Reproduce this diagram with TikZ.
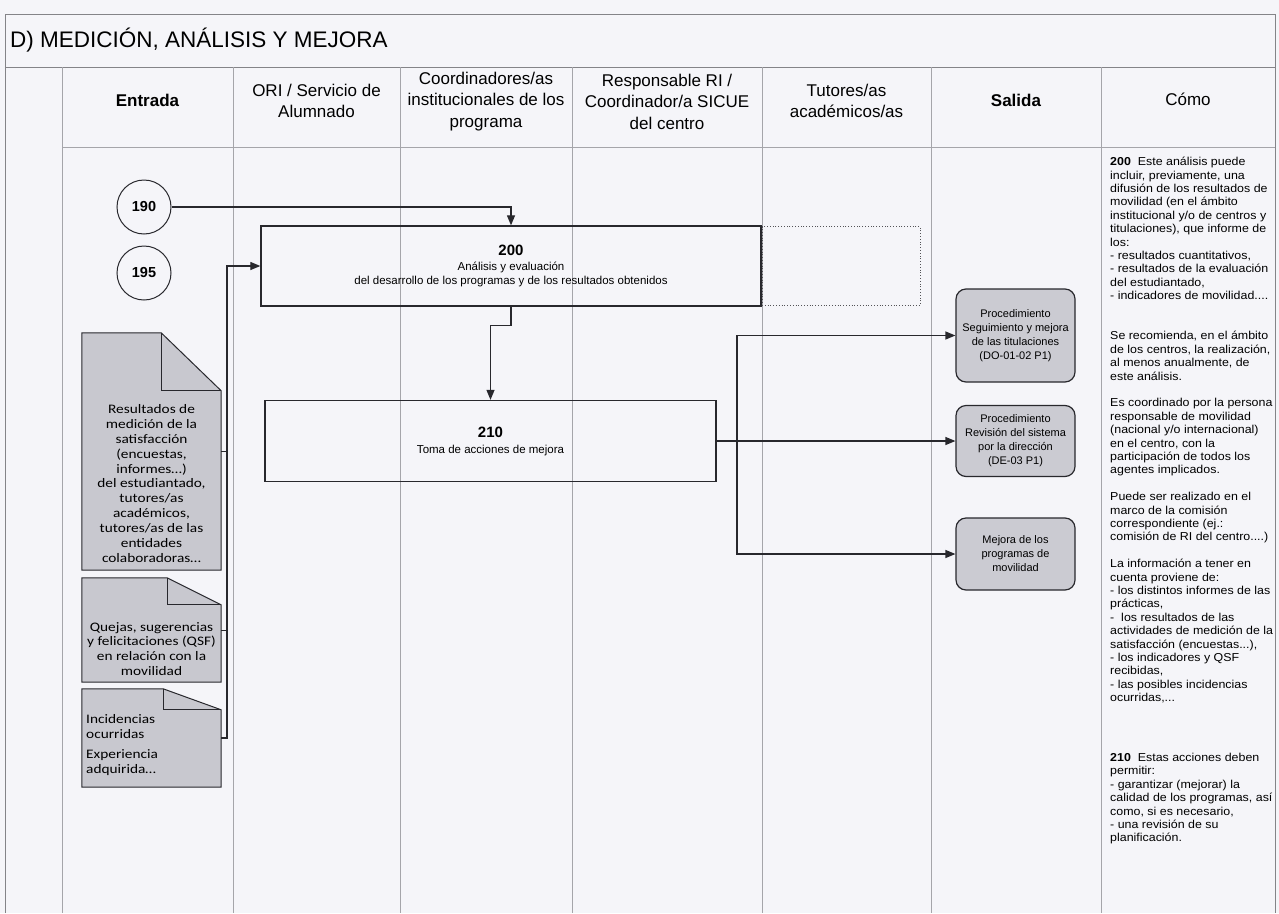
\documentclass[tikz,border=0pt]{standalone}
\usepackage{fontspec}
\setmainfont{Liberation Sans}
\newfontfamily\docfont[FakeStretch=1.18]{Carlito}
\newfontfamily\comofont[FakeStretch=1.08]{Liberation Sans}
\usepackage{tikz}
\usetikzlibrary{calc,positioning,arrows.meta,shapes}
\definecolor{paper}{RGB}{245,245,249}
\definecolor{lanegray}{RGB}{165,165,170}
\definecolor{ink}{RGB}{40,40,45}
\definecolor{docgray}{RGB}{200,200,207}
\definecolor{boxgray}{RGB}{203,203,210}

\begin{document}
\begin{tikzpicture}[x=1pt,y=-1pt]
\tikzstyle{lane}=[draw=lanegray, line width=0.6pt]
\tikzstyle{tblframe}=[draw=lanegray!80!black, line width=0.8pt]
\tikzstyle{hdr}=[align=center, inner sep=0pt, font=\fontsize{17}{21.5}\selectfont]
\tikzstyle{circ}=[circle, draw=ink, line width=1pt, minimum size=54pt, inner sep=0pt, font=\fontsize{14.5}{16}\selectfont\bfseries]
\tikzstyle{procbox}=[rectangle, draw=ink, line width=1.3pt, align=center, inner sep=0pt, font=\fontsize{11.5}{14}\selectfont]
\tikzstyle{dotbox}=[rectangle, draw=ink!80, dotted, line width=0.8pt, inner sep=0pt]
\tikzstyle{outbox}=[rectangle, rounded corners=10pt, draw=ink, fill=boxgray, line width=1.2pt, minimum width=119pt, align=center, inner sep=0pt, font=\fontsize{11}{14}\selectfont]
\tikzstyle{docnode}=[rectangle, inner sep=0pt, minimum width=139pt]
\tikzstyle{docshape}=[draw=ink, fill=docgray, line width=1pt]
\tikzstyle{doctxt}=[align=center, inner sep=0pt, font=\docfont\fontsize{13}{14.9}\selectfont]
\tikzstyle{como}=[align=left, inner sep=0pt, anchor=north west, font=\comofont\fontsize{11.5}{13.4}\selectfont]
\tikzstyle{conn}=[draw=ink, line width=1.2pt]
\tikzstyle{arr}=[conn, -{Triangle[length=10pt,width=8pt]}]

\fill[paper] (0,0) rectangle (1279,913);
\useasboundingbox (0,0) rectangle (1279,913);

% table
\draw[tblframe] (5,913) -- (5,14) -- (1275,14) -- (1275,913);
\draw[tblframe] (5,67) -- (1275,67);
\draw[lane] (62,147) -- (1275,147);
\foreach \x in {62,233,400,572,762,931,1101} {\draw[lane] (\x,67) -- (\x,913);}

\node[anchor=west, inner sep=0pt, font=\fontsize{22.5}{26}\selectfont] (ttl) at (10,40.5) {D) MEDICIÓN, ANÁLISIS Y MEJORA};

\node[hdr] (h1) at (147.5,100) {\textbf{Entrada}};
\node[hdr] (h2) at (316.5,101) {ORI / Servicio de\\Alumnado};
\node[hdr] (h3) at (486,101.5) {Coordinadores/as\\institucionales de los\\programa};
\node[hdr] (h4) at (667,101.5) {Responsable RI /\\Coordinador/a SICUE\\del centro};
\node[hdr] (h5) at (846.5,101) {Tutores/as\\académicos/as};
\node[hdr] (h6) at (1016,100) {\textbf{Salida}};
\node[hdr] (h7) at (1188,99) {Cómo};

% entrada
\node[circ] (c190) at (144,207) {190};
\node[circ] (c195) at (144,273) {195};

\node[docnode, minimum height=237pt] (d1) at (151.5,451.5) {};
\node[docnode, minimum height=104pt] (d2) at (151.5,630) {};
\node[docnode, minimum height=98pt] (d3) at (151.5,738) {};
\foreach \d/\fw/\fh in {d1/60/58, d2/54/27, d3/58/21}{
\filldraw[docshape] (\d.north west) -- ($(\d.north east)+(-\fw,0)$) -- ($(\d.north east)+(0,\fh)$) -- (\d.south east) -- (\d.south west) -- cycle;
\draw[docshape, fill=none] ($(\d.north east)+(-\fw,0)$) -- ($(\d.north east)+(-\fw,\fh)$) -- ($(\d.north east)+(0,\fh)$);
}
\node[doctxt] (t1) at (151.5,483.5) {Resultados de\\medición de la\\satisfacción\\(encuestas,\\informes…)\\del estudiantado,\\tutores/as\\académicos,\\tutores/as de las\\entidades\\colaboradoras…};
\node[doctxt] (t2) at (151.5,649) {Quejas, sugerencias\\y felicitaciones (QSF)\\en relación con la\\movilidad};
\node[doctxt, align=left, anchor=west] (t3) at (86,745) {Incidencias\\ocurridas\\[6pt]Experiencia\\adquirida…};

% proceso
\node[procbox, minimum width=500pt, minimum height=80pt] (b200) at (511,266) {{\fontsize{15}{17}\selectfont\bfseries 200}\\[1pt]Análisis y evaluación\\del desarrollo de los programas y de los resultados obtenidos};
\node[dotbox, anchor=west, minimum width=158pt, minimum height=79pt] (ext) at (b200.east) {};
\node[procbox, minimum width=451pt, minimum height=81pt] (b210) at (490.5,441) {{\fontsize{15}{17}\selectfont\bfseries 210}\\[2pt]Toma de acciones de mejora};

% salida
\node[outbox, minimum height=93pt] (o1) at (1015.5,335.5) {Procedimiento\\Seguimiento y mejora\\de las titulaciones\\(DO-01-02 P1)};
\node[outbox, minimum height=71pt] (o2) at (1015.5,441) {Procedimiento\\Revisión del sistema\\por la dirección\\(DE-03 P1)};
\node[outbox, minimum height=72pt] (o3) at (1015.5,554) {Mejora de los\\programas de\\movilidad};

% connectors
\coordinate (jin) at (227,266);
\coordinate (split) at (737,441);
\draw[arr] (c190) -| (b200);
\draw[arr] (d3.east) -| (jin) -- (b200.west);
\draw[conn, line width=1pt] (d1.east) -- (d1.east -| jin);
\draw[conn, line width=1pt] (d2.east) -- (d2.east -| jin);
\draw[arr] (b200.south) -- ++(0,19) -| (b210);
\draw[arr] (b210.east) -- (o2);
\draw[arr] (split) |- (o1);
\draw[arr] (split) |- (o3);

% como
\node[como] (cm1) at (1110,157) {{\bfseries 200}\ \ Este análisis puede\\
incluir, previamente, una\\
difusión de los resultados de\\
movilidad (en el ámbito\\
institucional y/o de centros y\\
titulaciones), que informe de\\
los:\\
- resultados cuantitativos,\\
- resultados de la evaluación\\
del estudiantado,\\
- indicadores de movilidad....\\[26.8pt]
Se recomienda, en el ámbito\\
de los centros, la realización,\\
al menos anualmente, de\\
este análisis.\\[13.4pt]
Es coordinado por la persona\\
responsable de movilidad\\
(nacional y/o internacional)\\
en el centro, con la\\
participación de todos los\\
agentes implicados.\\[13.4pt]
Puede ser realizado en el\\
marco de la comisión\\
correspondiente (ej.:\\
comisión de RI del centro....)\\[13.4pt]
La información a tener en\\
cuenta proviene de:\\
- los distintos informes de las\\
prácticas,\\
-\ \ los resultados de las\\
actividades de medición de la\\
satisfacción (encuestas...),\\
- los indicadores y QSF\\
recibidas,\\
- las posibles incidencias\\
ocurridas,...};
\node[como] (cm2) at (1110,753) {{\bfseries 210}\ \ Estas acciones deben\\
permitir:\\
- garantizar (mejorar) la\\
calidad de los programas, así\\
como, si es necesario,\\
- una revisión de su\\
planificación.};
\end{tikzpicture}
\end{document}
